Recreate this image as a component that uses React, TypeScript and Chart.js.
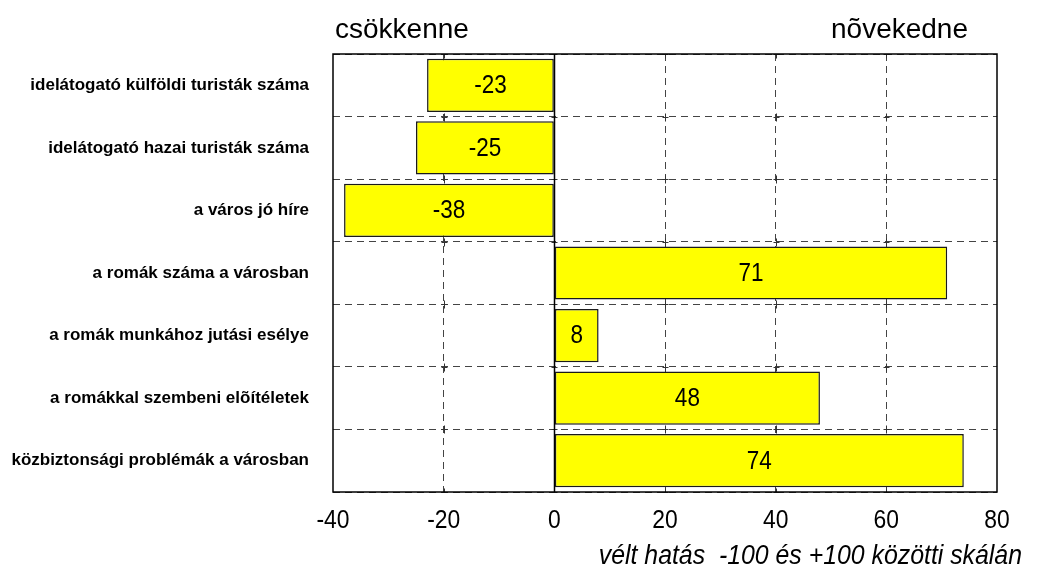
import React, { useEffect, useRef } from "react";
import { Chart, registerables } from "chart.js";

Chart.register(...registerables);

const categories = [
  "idelátogató külföldi turisták száma",
  "idelátogató hazai turisták száma",
  "a város jó híre",
  "a romák száma a városban",
  "a romák munkához jutási esélye",
  "a romákkal szembeni elõítéletek",
  "közbiztonsági problémák a városban",
];
const values = [-23, -25, -38, 71, 8, 48, 74];
const xMin = -40;
const xMax = 80;
const xStep = 20;
const leftTitle = "csökkenne";
const rightTitle = "nõvekedne";
const axisTitle = "vélt hatás  -100 és +100 közötti skálán";

const SANS = "'Liberation Sans', Arial, sans-serif";

function drawCondensed(
  ctx: CanvasRenderingContext2D,
  text: string,
  x: number,
  y: number,
  align: CanvasTextAlign,
  sx: number
) {
  ctx.save();
  ctx.translate(x, y);
  ctx.scale(sx, 1);
  ctx.textAlign = align;
  ctx.fillText(text, 0, 0);
  ctx.restore();
}

const overlay = {
  id: "overlay",
  beforeDatasetsDraw(chart: any) {
    const { ctx, chartArea: a, scales } = chart;
    ctx.save();
    // small cross marks at grid intersections
    ctx.strokeStyle = "#333";
    ctx.lineWidth = 1;
    const n = categories.length;
    const ys: number[] = [];
    for (let i = 0; i <= n; i++) ys.push(a.top + ((a.bottom - a.top) * i) / n);
    scales.x.ticks.forEach((t: any) => {
      if (t.value === xMin || t.value === xMax) return;
      const px = Math.round(scales.x.getPixelForValue(t.value)) + 0.5;
      ys.forEach((yy) => {
        const py = Math.round(yy) + 0.5;
        ctx.beginPath();
        ctx.moveTo(px - 3, py);
        ctx.lineTo(px + 3, py);
        ctx.moveTo(px, Math.max(a.top, py - 4));
        ctx.lineTo(px, Math.min(a.bottom, py + 4));
        ctx.stroke();
      });
    });
    const x0 = Math.round(scales.x.getPixelForValue(0)) + 0.5;
    ctx.strokeStyle = "#000";
    ctx.lineWidth = 1.5;
    ctx.beginPath();
    ctx.moveTo(x0, a.top);
    ctx.lineTo(x0, a.bottom);
    ctx.stroke();
    ctx.restore();
  },
  afterDatasetsDraw(chart: any) {
    const { ctx, chartArea: a, scales } = chart;
    const meta = chart.getDatasetMeta(0);
    const data = chart.data.datasets[0].data;
    ctx.save();
    ctx.fillStyle = "#000";
    ctx.font = `25px ${SANS}`;
    ctx.textBaseline = "middle";
    meta.data.forEach((bar: any, i: number) => {
      const p = bar.getProps(["x", "y", "base"], true);
      drawCondensed(ctx, String(data[i]), (p.x + p.base) / 2, p.y + 1, "center", 0.9);
    });

    ctx.strokeStyle = "#000";
    ctx.lineWidth = 1.5;
    ctx.strokeRect(a.left, a.top, a.right - a.left, a.bottom - a.top);

    // x tick labels
    ctx.font = `26px ${SANS}`;
    ctx.textBaseline = "alphabetic";
    scales.x.ticks.forEach((t: any) => {
      const px = scales.x.getPixelForValue(t.value);
      drawCondensed(ctx, String(t.value), px, 528, "center", 0.88);
    });

    ctx.font = `28px ${SANS}`;
    ctx.textAlign = "left";
    ctx.fillText(leftTitle, a.left + 2, 38);
    ctx.textAlign = "right";
    ctx.fillText(rightTitle, a.right - 29, 38);

    ctx.font = `italic 27px ${SANS}`;
    drawCondensed(ctx, axisTitle, 1022, 564, "right", 0.92);
    ctx.restore();
  },
};

export default function App() {
  const ref = useRef<HTMLCanvasElement>(null);
  useEffect(() => {
    if (!ref.current) return;
    const chart = new Chart(ref.current, {
      type: "bar",
      data: {
        labels: categories,
        datasets: [
          {
            data: values,
            backgroundColor: "#FFFF00",
            borderColor: "#1a1a1a",
            borderWidth: 1.5,
            borderSkipped: false,
            barPercentage: 0.85,
            categoryPercentage: 1,
          },
        ],
      },
      options: {
        indexAxis: "y",
        responsive: false,
        animation: false,
        layout: { padding: { top: 54, right: 45, left: 0, bottom: 0 } },
        plugins: {
          legend: { display: false },
          tooltip: { enabled: false },
          title: { display: false },
        },
        scales: {
          x: {
            type: "linear",
            min: xMin,
            max: xMax,
            afterFit: (s: any) => {
              s.height = 81;
            },
            ticks: {
              stepSize: xStep,
              display: false,
            },
            grid: {
              drawTicks: false,
              color: (c: any) =>
                c.tick && (c.tick.value === 0 || c.tick.value === xMin || c.tick.value === xMax)
                  ? "rgba(0,0,0,0)"
                  : "#444",
              lineWidth: 1,
            },
            border: { display: false, dash: [7, 5] },
          },
          y: {
            type: "category",
            afterFit: (s: any) => {
              s.width = 333;
            },
            ticks: {
              color: "#000",
              padding: 24,
              font: { family: SANS, size: 17, weight: "bold" },
            },
            grid: {
              offset: true,
              drawTicks: false,
              color: "#444",
              lineWidth: 1,
            },
            border: { display: false, dash: [7, 5] },
          },
        },
      },
      plugins: [overlay],
    } as any);
    return () => chart.destroy();
  }, []);
  return (
    <div style={{ position: "absolute", left: 0, top: 0, width: 1042, height: 573, background: "#fff" }}>
      <canvas ref={ref} width={1042} height={573} />
    </div>
  );
}
